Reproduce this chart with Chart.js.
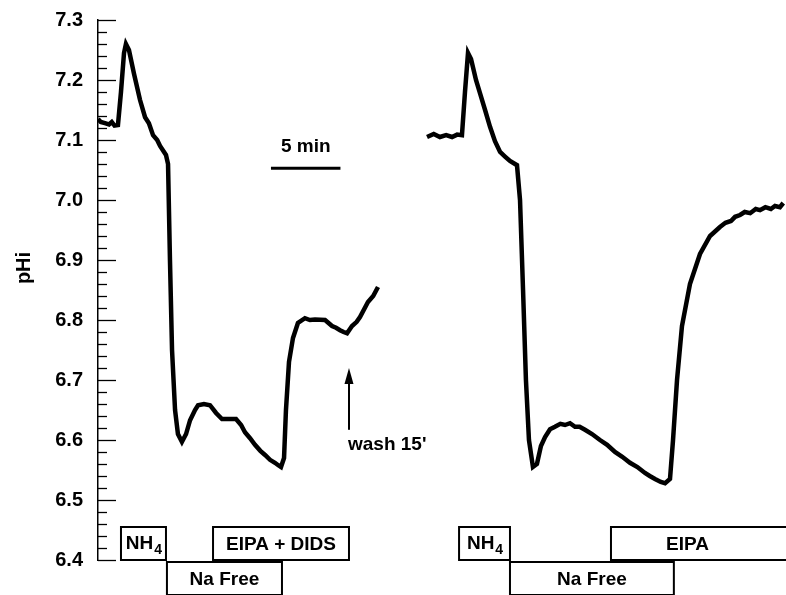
<!DOCTYPE html>
<html>
<head>
<meta charset="utf-8">
<script src="https://cdn.jsdelivr.net/npm/chart.js@4"></script>
<style>
  html, body { margin: 0; padding: 0; background: #fff; }
  #wrap { width: 786px; height: 595px; }
</style>
</head>
<body>
<div id="wrap"><canvas id="phChart"></canvas></div>
<script>
// time in minutes, pHi values
const leftTime = [0, 0.2, 0.5, 0.8, 1.0, 1.2, 1.45, 1.67, 1.89, 2.03, 2.25, 2.62, 3.05, 3.42, 3.7, 4.0, 4.3, 4.51, 4.94, 5.09, 5.23, 5.38, 5.6, 5.81, 6.1, 6.4, 6.69, 7.05, 7.27, 7.7, 8.14, 8.58, 9.01, 9.5, 10.03, 10.4, 10.68, 11.05, 11.41, 11.8, 12.14, 12.5, 12.86, 13.1, 13.3, 13.52, 13.66, 13.88, 14.17, 14.53, 15.04, 15.4, 15.77, 16.5, 17.01, 17.3, 17.59, 17.85, 18.1, 18.46, 18.8, 19.04, 19.62, 20.0, 20.35];
const leftPH = [7.135, 7.13, 7.128, 7.126, 7.13, 7.124, 7.125, 7.18, 7.245, 7.26, 7.25, 7.21, 7.167, 7.138, 7.128, 7.108, 7.1, 7.09, 7.075, 7.06, 6.9, 6.75, 6.65, 6.61, 6.597, 6.61, 6.633, 6.65, 6.658, 6.66, 6.658, 6.645, 6.635, 6.635, 6.635, 6.625, 6.613, 6.603, 6.592, 6.582, 6.575, 6.567, 6.562, 6.558, 6.555, 6.57, 6.65, 6.73, 6.77, 6.795, 6.803, 6.8, 6.801, 6.8, 6.79, 6.787, 6.783, 6.78, 6.778, 6.79, 6.797, 6.805, 6.83, 6.84, 6.855];

const rightTime = [23.91, 24.4, 24.85, 25.3, 25.73, 26.1, 26.45, 26.67, 26.89, 27.11, 27.47, 27.76, 28.13, 28.49, 28.85, 29.22, 29.6, 29.94, 30.45, 30.67, 30.89, 31.1, 31.32, 31.61, 31.9, 32.19, 32.49, 32.85, 33.21, 33.6, 33.94, 34.3, 34.67, 35.0, 35.39, 35.9, 36.48, 37.0, 37.57, 38.1, 38.66, 39.2, 39.75, 40.1, 40.48, 40.9, 41.21, 41.57, 41.79, 42.08, 42.44, 43.02, 43.75, 44.48, 45.2, 45.6, 46.0, 46.3, 46.66, 47.0, 47.4, 47.8, 48.11, 48.5, 48.9, 49.2, 49.56, 49.8];
const rightPH = [7.105, 7.11, 7.105, 7.108, 7.105, 7.109, 7.108, 7.18, 7.245, 7.235, 7.2, 7.178, 7.15, 7.122, 7.098, 7.08, 7.072, 7.065, 7.058, 7.0, 6.85, 6.7, 6.6, 6.555, 6.56, 6.59, 6.605, 6.618, 6.622, 6.627, 6.625, 6.628, 6.622, 6.622, 6.617, 6.61, 6.6, 6.592, 6.58, 6.572, 6.562, 6.555, 6.545, 6.54, 6.535, 6.53, 6.528, 6.535, 6.6, 6.7, 6.79, 6.86, 6.91, 6.94, 6.955, 6.962, 6.965, 6.972, 6.975, 6.98, 6.978, 6.985, 6.983, 6.988, 6.985, 6.99, 6.988, 6.995];

const yTicks = [6.4, 6.5, 6.6, 6.7, 6.8, 6.9, 7.0, 7.1, 7.2, 7.3];

// solution bars: [label, start min, end min, row]  (row 0 = upper, 1 = lower)
const bars = [
  ["NH4", 1.67, 4.94, 0],
  ["Na Free", 5.01, 13.37, 1],
  ["EIPA + DIDS", 8.36, 18.24, 0],
  ["NH4", 26.24, 29.94, 0],
  ["Na Free", 29.94, 41.85, 1],
  ["EIPA", 37.28, 50.5, 0]
];

const scaleBar = [12.57, 17.62];   // 5 min
const scaleBarPH = 7.053;
const washTime = 18.24;
const washPH = [6.72, 6.617];

const FONT = "Liberation Sans, Arial, sans-serif";

function toPoints(ts, vs) {
  return ts.map((t, i) => ({ x: t, y: vs[i] }));
}

const extras = {
  id: "extras",
  afterDraw(chart) {
    const ctx = chart.ctx;
    const x = chart.scales.x;
    const y = chart.scales.y;
    const axisX = chart.chartArea.left;
    ctx.save();
    ctx.strokeStyle = "#000";
    ctx.fillStyle = "#000";

    // inward ticks
    ctx.lineWidth = 1.3;
    for (let k = 0; k <= 45; k++) {
      const v = 6.4 + k * 0.02;
      const py = Math.round(y.getPixelForValue(v)) + 0.5;
      const len = k % 5 === 0 ? 18 : 9;
      ctx.beginPath();
      ctx.moveTo(axisX, py);
      ctx.lineTo(axisX + len, py);
      ctx.stroke();
    }

    // y axis label, a bit above the middle like the original
    ctx.save();
    ctx.translate(24, (chart.chartArea.top + chart.chartArea.bottom) / 2 - 22);
    ctx.rotate(-Math.PI / 2);
    ctx.font = "bold 20px " + FONT;
    ctx.textAlign = "center";
    ctx.textBaseline = "middle";
    ctx.fillText("pHi", 0, 0);
    ctx.restore();

    // scale bar
    ctx.lineWidth = 3;
    const sy = y.getPixelForValue(scaleBarPH);
    ctx.beginPath();
    ctx.moveTo(x.getPixelForValue(scaleBar[0]), sy);
    ctx.lineTo(x.getPixelForValue(scaleBar[1]), sy);
    ctx.stroke();
    ctx.font = "bold 19px " + FONT;
    ctx.textAlign = "center";
    ctx.textBaseline = "middle";
    ctx.fillText("5 min", (x.getPixelForValue(scaleBar[0]) + x.getPixelForValue(scaleBar[1])) / 2, sy - 21);

    // wash arrow
    const ax = x.getPixelForValue(washTime);
    const tipY = y.getPixelForValue(washPH[0]);
    const baseY = y.getPixelForValue(washPH[1]);
    ctx.lineWidth = 2;
    ctx.beginPath();
    ctx.moveTo(ax, tipY + 10);
    ctx.lineTo(ax, baseY);
    ctx.stroke();
    ctx.beginPath();
    ctx.moveTo(ax, tipY);
    ctx.lineTo(ax - 4.5, tipY + 16);
    ctx.lineTo(ax + 4.5, tipY + 16);
    ctx.closePath();
    ctx.fill();
    ctx.textAlign = "left";
    ctx.textBaseline = "alphabetic";
    ctx.fillText("wash 15'", ax - 1, baseY + 20);

    // solution bars below the axis
    const bottom = chart.chartArea.bottom;
    const rowTop = [bottom - 33, bottom + 2];
    const rowH = 33;
    ctx.lineWidth = 2;
    bars.forEach(([label, t0, t1, row]) => {
      const x0 = x.getPixelForValue(t0);
      const x1 = Math.min(x.getPixelForValue(t1), chart.width + 5);
      const top = rowTop[row];
      ctx.fillStyle = "#fff";
      ctx.fillRect(x0, top, x1 - x0, rowH);
      ctx.strokeRect(x0, top, x1 - x0, rowH);
      ctx.fillStyle = "#000";
      ctx.font = "bold 19px " + FONT;
      ctx.textBaseline = "middle";
      const cx = (x0 + Math.min(x1, chart.width)) / 2;
      const cy = top + rowH / 2 + 1;
      if (label === "NH4") {
        ctx.textAlign = "left";
        const w1 = ctx.measureText("NH").width;
        ctx.font = "bold 14px " + FONT;
        const w2 = ctx.measureText("4").width;
        const sx = cx - (w1 + w2) / 2;
        ctx.font = "bold 19px " + FONT;
        ctx.fillText("NH", sx, cy - 1);
        ctx.font = "bold 14px " + FONT;
        ctx.fillText("4", sx + w1 + 1, cy + 6);
      } else {
        ctx.textAlign = "center";
        ctx.fillText(label, label === "EIPA" ? cx - 11 : cx, cy);
      }
    });
    ctx.restore();
  }
};

new Chart(document.getElementById("phChart"), {
  type: "line",
  data: {
    datasets: [
      {
        data: toPoints(leftTime, leftPH),
        borderColor: "#000",
        borderWidth: 4.5,
        pointRadius: 0,
        tension: 0
      },
      {
        data: toPoints(rightTime, rightPH),
        borderColor: "#000",
        borderWidth: 4.5,
        pointRadius: 0,
        tension: 0
      }
    ]
  },
  options: {
    responsive: true,
    maintainAspectRatio: false,
    animation: false,
    events: [],
    layout: { padding: { top: 20, bottom: 35, right: 0, left: 0 } },
    plugins: { legend: { display: false }, tooltip: { enabled: false } },
    scales: {
      x: {
        type: "linear",
        min: 0,
        max: 50,
        display: false
      },
      y: {
        min: 6.4,
        max: 7.3,
        afterFit(scale) { scale.width = 98; },
        afterBuildTicks(scale) { scale.ticks = yTicks.map(v => ({ value: v })); },
        grid: { display: false, drawTicks: false },
        border: { display: true, color: "#000", width: 1.5 },
        ticks: {
          color: "#000",
          padding: 15,
          font: { family: FONT, size: 20, weight: "bold", lineHeight: 0.4 },
          callback: v => Number(v).toFixed(1)
        }
      }
    }
  },
  plugins: [extras]
});
</script>
</body>
</html>
